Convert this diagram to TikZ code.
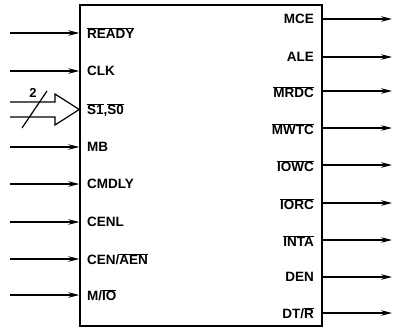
\documentclass[tikz,border=0pt]{standalone}
\usepackage{fontspec}
\setmainfont{Liberation Sans}
\usepackage{tikz}
\usetikzlibrary{arrows.meta,positioning}
\newcommand{\ovl}[1]{$\overline{\mbox{#1}}$}

\begin{document}
\begin{tikzpicture}[x=1pt, y=-1pt, font=\fontsize{13.5}{16}\selectfont\bfseries,
    pin/.style={line width=1.2pt, -{Stealth[length=11pt, width=5.5pt]}},
    lbl/.style={inner sep=0pt}]
        \useasboundingbox (0,0) rectangle (399,329);
        \node[draw, line width=1.5pt, minimum width=242pt, minimum height=321pt,
          inner sep=0pt] (chip) at (201,165.5) {};
        % inputs
        \node[lbl, anchor=west] (ready) at (87,33) {\ovl{READY}};
        \node[lbl, anchor=west] (clk) at (87,71) {CLK};
        \node[lbl, anchor=west] (stat) at (87,110) {\ovl{S1},\ovl{S0}};
        \node[lbl, anchor=west] (mb) at (87,147) {MB};
        \node[lbl, anchor=west] (cmdly) at (87,184) {CMDLY};
        \node[lbl, anchor=west] (cenl) at (87,222) {CENL};
        \node[lbl, anchor=west] (cen) at (87,259) {CEN/\ovl{AEN}};
        \node[lbl, anchor=west] (mio) at (87,295) {M/\ovl{IO}};
        \coordinate (iready) at (10,33);
        \coordinate (iclk) at (10,71);
        \coordinate (imb) at (10,147);
        \coordinate (icmdly) at (10,184);
        \coordinate (icenl) at (10,222);
        \coordinate (icen) at (10,259);
        \coordinate (imio) at (10,295);
        \draw[pin] (iready) -- (chip.west |- ready);
        \draw[pin] (iclk) -- (chip.west |- clk);
        \draw[pin] (imb) -- (chip.west |- mb);
        \draw[pin] (icmdly) -- (chip.west |- cmdly);
        \draw[pin] (icenl) -- (chip.west |- cenl);
        \draw[pin] (icen) -- (chip.west |- cen);
        \draw[pin] (imio) -- (chip.west |- mio);
        % status bus
        \coordinate (bus) at (chip.west |- 0,109.5);
        \draw[line width=1.2pt, line join=miter] (10,102) -- (55,102) -- (55,94) -- (bus)
          -- (55,125) -- (55,117) -- (10,117);
        \draw[line width=1.2pt] (22,128) -- (47,91);
        \node[lbl] (width) at (33,93) {\fontsize{13}{15}\selectfont\bfseries 2};
        % outputs
        \node[lbl, anchor=east] (mce) at (314,19) {MCE};
        \node[lbl, anchor=east] (ale) at (314,57) {ALE};
        \node[lbl, anchor=east] (mrdc) at (314,92) {\ovl{MRDC}};
        \node[lbl, anchor=east] (mwtc) at (314,129) {\ovl{MWTC}};
        \node[lbl, anchor=east] (iowc) at (314,166) {\ovl{IOWC}};
        \node[lbl, anchor=east] (iorc) at (314,204) {\ovl{IORC}};
        \node[lbl, anchor=east] (inta) at (314,241) {\ovl{INTA}};
        \node[lbl, anchor=east] (den) at (314,277) {DEN};
        \node[lbl, anchor=east] (dtr) at (314,313) {DT/\ovl{R}};
        \coordinate (omce) at (392,19);
        \coordinate (oale) at (392,57);
        \coordinate (omrdc) at (392,91);
        \coordinate (omwtc) at (392,128);
        \coordinate (oiowc) at (392,165);
        \coordinate (oiorc) at (392,203);
        \coordinate (ointa) at (392,240);
        \coordinate (oden) at (392,277);
        \coordinate (odtr) at (392,313);
        \draw[pin] (chip.east |- omce) -- (omce);
        \draw[pin] (chip.east |- oale) -- (oale);
        \draw[pin] (chip.east |- omrdc) -- (omrdc);
        \draw[pin] (chip.east |- omwtc) -- (omwtc);
        \draw[pin] (chip.east |- oiowc) -- (oiowc);
        \draw[pin] (chip.east |- oiorc) -- (oiorc);
        \draw[pin] (chip.east |- ointa) -- (ointa);
        \draw[pin] (chip.east |- oden) -- (oden);
        \draw[pin] (chip.east |- odtr) -- (odtr);
      \end{tikzpicture}
\end{document}
